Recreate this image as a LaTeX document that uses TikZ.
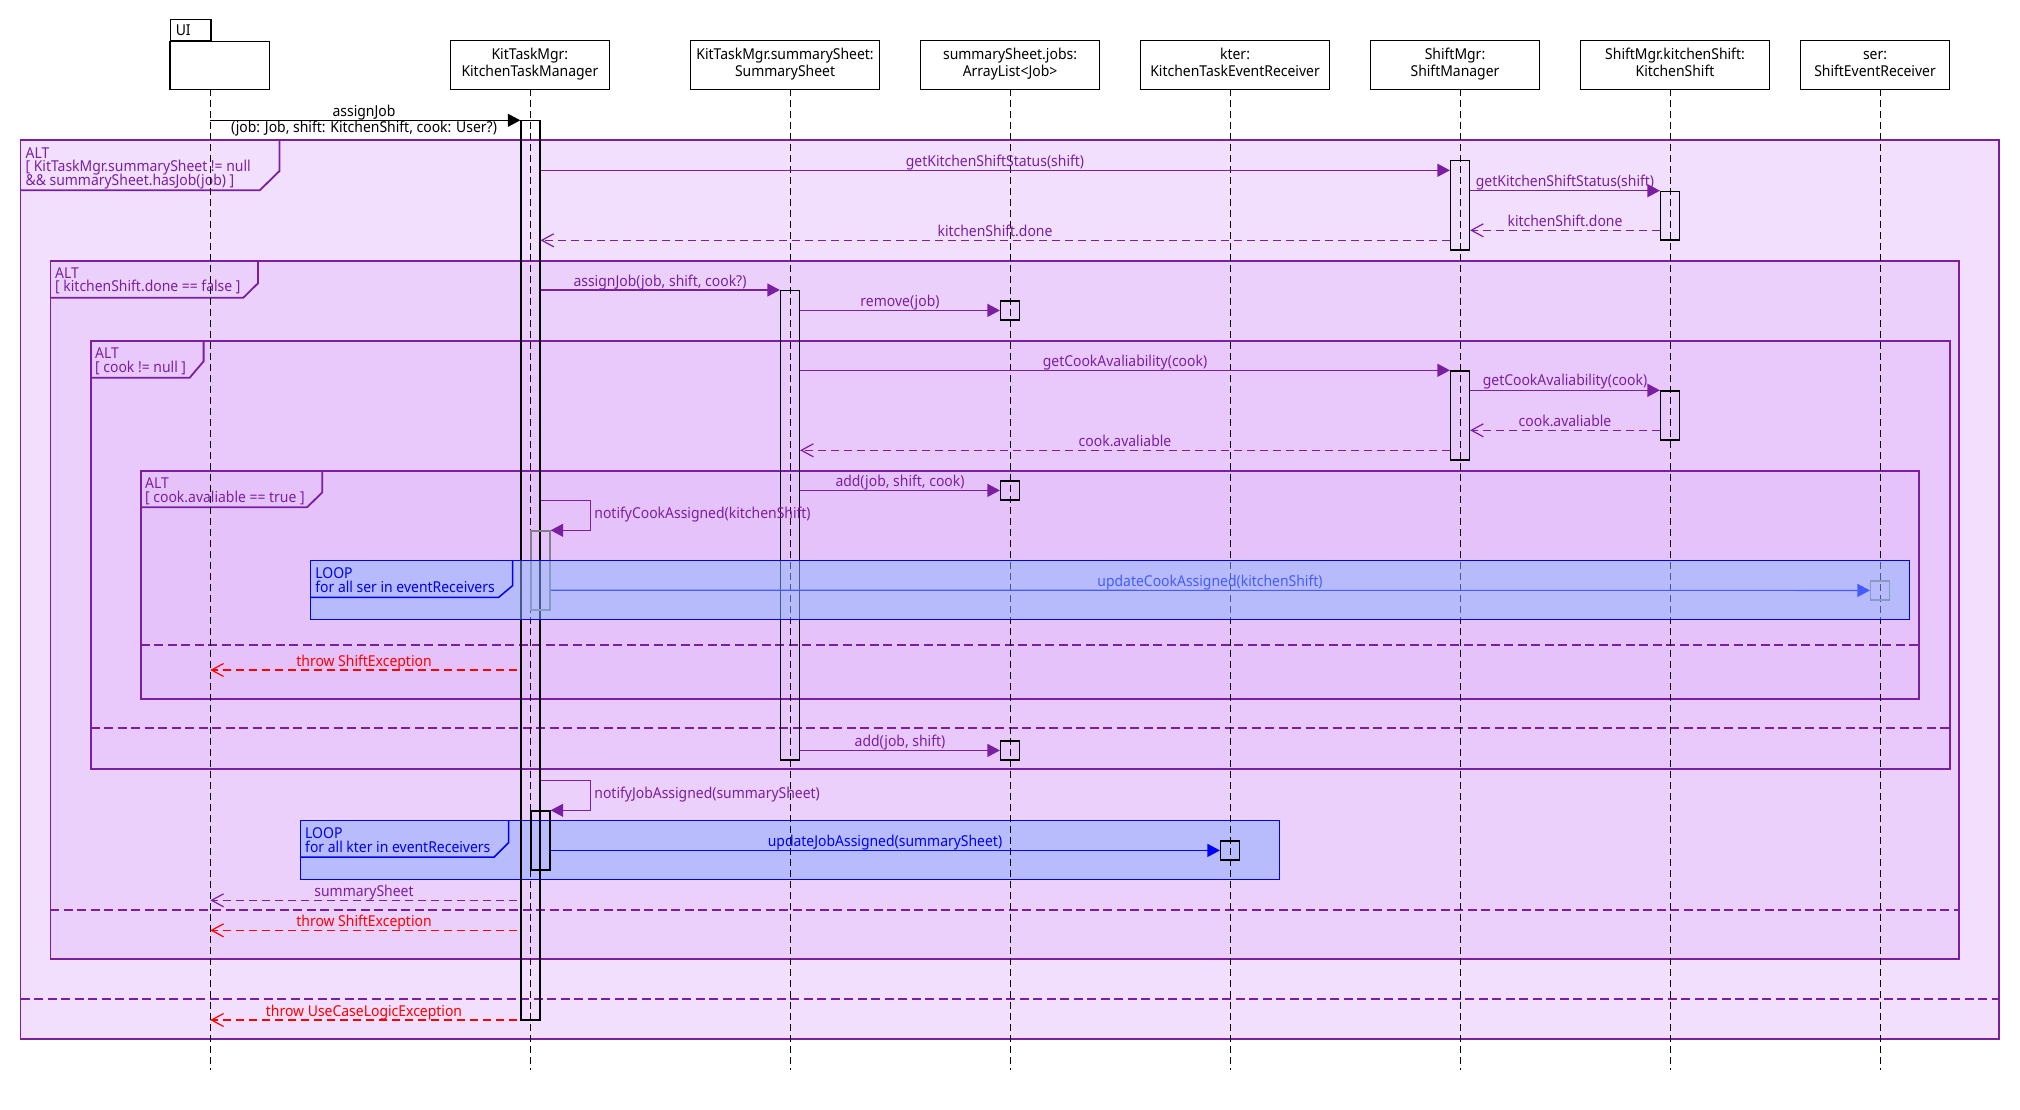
\documentclass[tikz,border=0pt]{standalone}
\usepackage{fontspec}
\setmainfont{Noto Sans}[FakeStretch=0.93]
\usetikzlibrary{arrows.meta}
\definecolor{pu}{RGB}{123,31,162}
\definecolor{fa}{RGB}{241,223,253}
\definecolor{fb}{RGB}{236,208,252}
\definecolor{fc}{RGB}{233,200,251}
\definecolor{fd}{RGB}{230,194,250}
\definecolor{lpf}{RGB}{184,188,252}
\definecolor{lpo}{RGB}{138,182,254}
\definecolor{lb}{RGB}{0,0,240}
\definecolor{rd}{RGB}{255,0,0}
\definecolor{gact}{RGB}{128,128,136}
\newcommand{\twol}[2]{\begin{tabular}{@{}c@{}}#1\\#2\end{tabular}}
\begin{document}
\begin{tikzpicture}[x=1pt,y=-1pt,font=\fontsize{15}{16.7}\selectfont,
  head/.style={draw,line width=1.3pt,fill=white,inner sep=0pt,minimum height=49pt},
  tab/.style={draw,line width=1.3pt,fill=white,anchor=south west,inner xsep=5pt,inner ysep=0pt,text width=30.2pt,minimum height=21pt,text height=10.5pt,text depth=0pt},
  act/.style={draw,line width=1.2pt,inner sep=0pt,minimum width=19pt},
  lifeline/.style={line width=1.1pt,dash pattern=on 7pt off 4pt},
  msg/.style={line width=1.2pt,-{Triangle[length=12.5pt,width=13pt]}},
  ret/.style={line width=1.2pt,dash pattern=on 8pt off 5pt,-{Straight Barb[length=12pt,width=13pt]}},
  lbl/.style={inner sep=0pt,text height=10.5pt,text depth=0pt},
  frame/.style={line width=1.8pt,draw=pu},
  divider/.style={line width=2.3pt,pu,dash pattern=on 9pt off 4.5pt},
  loopb/.style={line width=1.5pt,draw=lb}]
\useasboundingbox (0,0) rectangle (2020,1110);
\fill[white] (0,0) rectangle (2020,1110);

% ---- ALT 1
\draw[frame,fill=fa] (20.5,140.3) rectangle (1999,1039);
\draw[frame] (20.5,190.3) -- (259.8,190.3) -- (279.5,171) -- (279.5,140.3);
\node[lbl,pu,anchor=west] (f1a) at (25.4,153.3) {ALT};
\node[lbl,pu,anchor=west] (f1b) at (25.4,166.7) {[ KitTaskMgr.summarySheet != null};
\node[lbl,pu,anchor=west] (f1c) at (25.4,180.3) {\&\& summarySheet.hasJob(job) ]};
\draw[divider] (20.5,999.3) -- (1999,999.3);
% ---- ALT 2
\draw[frame,fill=fb] (50.4,260.7) rectangle (1959.3,959);
\draw[frame] (50.4,297.7) -- (243.3,297.7) -- (258,283.3) -- (258,260.7);
\node[lbl,pu,anchor=west] (f2a) at (55,273.3) {ALT};
\node[lbl,pu,anchor=west] (f2b) at (55,286.7) {[ kitchenShift.done == false ]};
\draw[divider] (50.4,910.3) -- (1959.3,910.3);
% ---- ALT 3
\draw[frame,fill=fc] (90.6,340.7) rectangle (1949.6,769);
\draw[frame] (90.6,377.7) -- (189.7,377.7) -- (203.6,361.3) -- (203.6,340.7);
\node[lbl,pu,anchor=west] (f3a) at (95,353.3) {ALT};
\node[lbl,pu,anchor=west] (f3b) at (95,367) {[ cook != null ]};
\draw[divider] (90.6,728) -- (1949.6,728);
% ---- ALT 4
\draw[frame,fill=fd] (140.6,471) rectangle (1919.2,699);
\draw[frame] (140.6,507.3) -- (307.1,507.3) -- (322.3,492.3) -- (322.3,471);
\node[lbl,pu,anchor=west] (f4a) at (145,483.3) {ALT};
\node[lbl,pu,anchor=west] (f4b) at (145,497.3) {[ cook.avaliable == true ]};
\draw[divider] (140.6,645.3) -- (1919.2,645.3);
% ---- LOOP 2
\draw[loopb,fill=lpf] (300.4,820.3) rectangle (1279.5,879.3);
\draw[loopb] (300.4,857) -- (494.2,857) -- (508.5,842.7) -- (508.5,820.3);
\node[lbl,lb,anchor=west] (l2a) at (305,833.3) {LOOP};
\node[lbl,lb,anchor=west] (l2b) at (305,847) {for all kter in eventReceivers};

% ---- lifelines
\coordinate (bot) at (0,1070);
\coordinate (uiL) at (210.3,89.3);
\coordinate (ktmL) at (530.4,89.3);
\coordinate (ssL) at (790.6,89.3);
\coordinate (jbL) at (1010.7,89.3);
\coordinate (ktL) at (1230.4,89.3);
\coordinate (smL) at (1460.3,89.3);
\coordinate (ksL) at (1670.6,89.3);
\coordinate (seL) at (1880.5,89.3);
\foreach \p in {uiL,ktmL,ssL,jbL,ktL,smL,ksL,seL}
  \draw[lifeline] (\p) -- (\p |- bot);

% ---- participants
\node[head,minimum width=99.5pt,minimum height=48pt] (ui) at (219.85,65.3) {};
\node[tab] (uitab) at (170.1,41.3) {UI};
\node[head,minimum width=159pt] (ktm) at (529.9,64.8) {\twol{KitTaskMgr:}{KitchenTaskManager}};
\node[head,minimum width=188.9pt] (ss) at (785.05,64.8) {\twol{KitTaskMgr.summarySheet:}{SummarySheet}};
\node[head,minimum width=179.1pt] (jb) at (1010.05,64.8) {\twol{summarySheet.jobs:}{ArrayList<Job>}};
\node[head,minimum width=188.9pt] (kt) at (1235.05,64.8) {\twol{kter:}{KitchenTaskEventReceiver}};
\node[head,minimum width=169pt] (sm) at (1455,64.8) {\twol{ShiftMgr:}{ShiftManager}};
\node[head,minimum width=189.2pt] (ks) at (1675,64.8) {\twol{ShiftMgr.kitchenShift:}{KitchenShift}};
\node[head,minimum width=149.2pt] (se) at (1875,64.8) {\twol{ser:}{ShiftEventReceiver}};

% ---- activations
\node[act,anchor=north,minimum height=899pt] (kaa) at (530.4,120.3) {};
\node[act,anchor=north west,minimum height=79pt,draw=gact] (kan1) at (530.4,530.3) {};
\node[act,anchor=north west,minimum height=59pt] (kan2) at (530.4,810.3) {};
\node[act,anchor=north,minimum height=89pt] (sma1) at (1460,160.3) {};
\node[act,anchor=north,minimum height=48.6pt] (ksa1) at (1670,190.7) {};
\node[act,anchor=north,minimum height=469.3pt] (ssa) at (790,290) {};
\node[act,anchor=north,minimum height=19pt] (ja1) at (1010,300.3) {};
\node[act,anchor=north,minimum height=89pt] (sma2) at (1460,370.3) {};
\node[act,anchor=north,minimum height=49pt] (ksa2) at (1670,390.3) {};
\node[act,anchor=north,minimum height=19pt] (ja2) at (1010,480.3) {};
\node[act,anchor=north,minimum height=19pt,draw=gact] (sera) at (1880,580.3) {};
\node[act,anchor=north,minimum height=19pt] (ja3) at (1010,740.3) {};
\node[act,anchor=north,minimum height=19pt] (ktera) at (1230,840.3) {};

% ---- messages
\coordinate (y1) at (0,120.3);
\draw[msg] (uiL |- y1) -- (kaa.north west);
\node[inner sep=0pt,font=\fontsize{15}{15.3}\selectfont] (m1) at (364,121.2) {\twol{assignJob}{(job: Job, shift: KitchenShift, cook: User?)}};

\coordinate (y2) at (0,170.3);
\draw[msg,pu] (kaa.east |- y2) -- (sma1.west |- y2);
\node[lbl,pu] (m2) at (995,161) {getKitchenShiftStatus(shift)};

\draw[msg,pu] (sma1.east |- ksa1.north) -- (ksa1.north west);
\node[lbl,pu] (m3) at (1565,181) {getKitchenShiftStatus(shift)};

\coordinate (y4) at (0,230.3);
\draw[ret,pu] (ksa1.west |- y4) -- (sma1.east |- y4);
\node[lbl,pu] (m4) at (1565,221) {kitchenShift.done};

\coordinate (y5) at (0,240.3);
\draw[ret,pu] (sma1.west |- y5) -- (kaa.east |- y5);
\node[lbl,pu] (m5) at (995,231) {kitchenShift.done};

\draw[msg,pu] (kaa.east |- ssa.north) -- (ssa.north west);
\node[lbl,pu] (m6) at (660,281) {assignJob(job, shift, cook?)};

\draw[msg,pu] (ssa.east |- ja1.center) -- (ja1.west);
\node[lbl,pu] (m7) at (900,301) {remove(job)};

\draw[msg,pu] (ssa.east |- sma2.north) -- (sma2.north west);
\node[lbl,pu] (m8) at (1125,361) {getCookAvaliability(cook)};

\draw[msg,pu] (sma2.east |- ksa2.north) -- (ksa2.north west);
\node[lbl,pu] (m9) at (1565,380.7) {getCookAvaliability(cook)};

\coordinate (y10) at (0,430.3);
\draw[ret,pu] (ksa2.west |- y10) -- (sma2.east |- y10);
\node[lbl,pu] (m10) at (1565,421) {cook.avaliable};

\coordinate (y11) at (0,450.3);
\draw[ret,pu] (sma2.west |- y11) -- (ssa.east |- y11);
\node[lbl,pu] (m11) at (1125,441) {cook.avaliable};

\draw[msg,pu] (ssa.east |- ja2.center) -- (ja2.west);
\node[lbl,pu] (m12) at (900,481.3) {add(job, shift, cook)};

\coordinate (s1) at (590.6,500.3);
\draw[msg,pu] (kaa.east |- s1) -- (s1) |- (kan1.north east);
\node[lbl,pu,anchor=west] (m13) at (594.2,513.3) {notifyCookAssigned(kitchenShift)};

\coordinate (y14) at (0,590.3);
\draw[msg,blue] (kan1.east |- y14) -- (sera.west);
\node[lbl,blue] (m14) at (1210,581) {updateCookAssigned(kitchenShift)};

\coordinate (y15) at (0,670);
\draw[ret,rd] ([xshift=-3pt]kaa.west |- y15) -- (uiL |- y15);
\node[lbl,rd] (m15) at (364,661) {throw ShiftException};

\draw[msg,pu] (ssa.east |- ja3.center) -- (ja3.west);
\node[lbl,pu] (m16) at (900,741) {add(job, shift)};

\coordinate (s2) at (590.6,780.3);
\draw[msg,pu] (kaa.east |- s2) -- (s2) |- (kan2.north east);
\node[lbl,pu,anchor=west] (m17) at (594.2,793.3) {notifyJobAssigned(summarySheet)};

\draw[msg,blue] (kan2.east |- ktera.center) -- (ktera.west);
\node[lbl,blue] (m18) at (885,841) {updateJobAssigned(summarySheet)};

\coordinate (y19) at (0,900.3);
\draw[ret,pu] ([xshift=-3pt]kaa.west |- y19) -- (uiL |- y19);
\node[lbl,pu] (m19) at (364,891.3) {summarySheet};

\coordinate (y20) at (0,930.3);
\draw[ret,rd] ([xshift=-3pt]kaa.west |- y20) -- (uiL |- y20);
\node[lbl,rd] (m20) at (364,921.3) {throw ShiftException};

\coordinate (y21) at (0,1020);
\draw[ret,rd] ([xshift=-3pt]kaa.west |- y21) -- (uiL |- y21);
\node[lbl,rd] (m21) at (364,1011) {throw UseCaseLogicException};

% ---- LOOP 1 (translucent, on top)
\fill[lpo,fill opacity=0.5] (310.3,560.7) rectangle (1909.5,619.3);
\draw[loopb] (310.3,560.7) rectangle (1909.5,619.3);
\draw[loopb] (310.3,597.3) -- (498.7,597.3) -- (512.5,585.7) -- (512.5,560.7);
\node[lbl,lb,anchor=west] (l1a) at (315.2,573.3) {LOOP};
\node[lbl,lb,anchor=west] (l1b) at (315.2,587.3) {for all ser in eventReceivers};
\end{tikzpicture}
\end{document}
